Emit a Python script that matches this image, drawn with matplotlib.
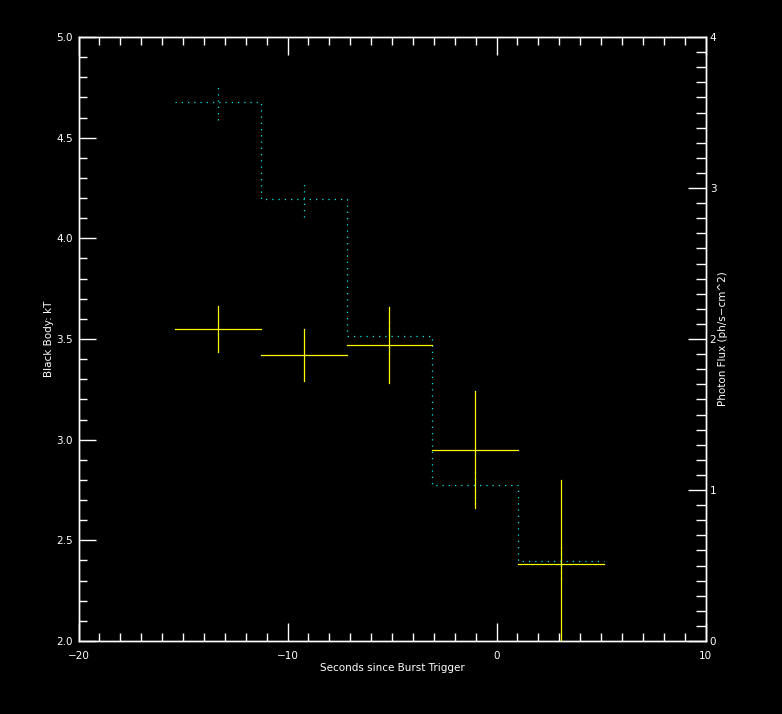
import numpy as np
import matplotlib
matplotlib.use('Agg')
import matplotlib.pyplot as plt
from matplotlib.ticker import MultipleLocator

# --------- data --------

# bin edges (s since trigger), 4.096 s bins
edges = np.array([-15.36, -11.264, -7.168, -3.072, 1.024, 5.12])

# black body kT per bin, with 1-sigma errors
kT = np.array([3.55, 3.42, 3.47, 2.95, 2.38])
kT_err = np.array([0.115, 0.13, 0.19, 0.29, 0.42])

# photon flux per bin (ph/s-cm2)
flux = np.array([3.57, 2.93, 2.02, 1.03, 0.53])
flux_err = np.array([0.12, 0.12, 0.12, 0.12, 0.12])

xticks = [-20, -10, 0, 10]
kT_ticks = [2.0, 2.5, 3.0, 3.5, 4.0, 4.5, 5.0]
flux_ticks = [0, 1, 2, 3, 4]

# --------- plot-params -----------

fg = 'white'
crosscol = '#ffff00'
dotcol = '#00e8e8'
numbersize = 7.5
labelsize = 7.5

plt.rcParams['font.family'] = 'DejaVu Sans'
plt.rcParams['axes.facecolor'] = 'black'
plt.rcParams['figure.facecolor'] = 'black'
plt.rcParams['axes.edgecolor'] = fg
plt.rcParams['axes.linewidth'] = 1.0
plt.rcParams['text.color'] = fg
plt.rcParams['xtick.color'] = fg
plt.rcParams['ytick.color'] = fg
plt.rcParams['axes.labelcolor'] = fg

W, H = 782, 714
fig = plt.figure(figsize=(W / 100, H / 100), dpi=100)

x0, x1 = 78.5, 705.5
y0, y1 = 641, 37
ax = fig.add_axes([x0 / W, 1 - y0 / H, (x1 - x0) / W, (y0 - y1) / H])

centers = 0.5 * (edges[:-1] + edges[1:])

# kT crosses
for i in range(len(kT)):
    ax.plot([edges[i], edges[i + 1]], [kT[i], kT[i]], color=crosscol, lw=0.9, zorder=3)
    ax.plot([centers[i], centers[i]], [kT[i] - kT_err[i], kT[i] + kT_err[i]],
            color=crosscol, lw=0.9, zorder=3)

ax.set_xlim(-20, 10)
ax.set_ylim(2.0, 5.0)
ax.set_xticks(xticks)
ax.set_xticklabels(['\u221220', '\u221210', '0', '10'])
ax.xaxis.set_minor_locator(MultipleLocator(1))
ax.set_yticks(kT_ticks)
ax.set_yticklabels(['%.1f' % v for v in kT_ticks])
ax.yaxis.set_minor_locator(MultipleLocator(0.1))
ax.tick_params(axis='x', which='both', direction='in', top=True, bottom=True,
               labelsize=numbersize, pad=7)
ax.tick_params(axis='x', which='major', length=13, width=1)
ax.tick_params(axis='x', which='minor', length=6, width=1)
ax.tick_params(axis='y', which='both', direction='in', left=True, right=False,
               labelsize=numbersize, pad=4)
ax.tick_params(axis='y', which='major', length=12, width=1)
ax.tick_params(axis='y', which='minor', length=6, width=1)
ax.set_xlabel('Seconds since Burst Trigger', fontsize=labelsize, labelpad=1.5)
ax.set_ylabel('Black Body: kT', fontsize=labelsize, labelpad=1.5)

# photon flux, dotted histogram on right axis
ax2 = ax.twinx()
ax2.step(edges, np.append(flux, flux[-1]), where='post', color=dotcol,
         lw=0.9, linestyle=(0, (1, 4)), zorder=2)
ax2.vlines(centers, flux - flux_err, flux + flux_err, color=dotcol,
           lw=0.9, linestyle=(0, (1, 4)), zorder=2)
ax2.set_ylim(0, 4)
ax2.set_yticks(flux_ticks)
ax2.yaxis.set_minor_locator(MultipleLocator(0.1))
ax2.tick_params(axis='y', which='both', direction='in', right=True, left=False,
                labelsize=numbersize, pad=3)
ax2.tick_params(axis='y', which='major', length=13, width=1)
ax2.tick_params(axis='y', which='minor', length=7, width=1)
ax2.set_ylabel('Photon Flux (ph/s\u2212cm^2)', fontsize=labelsize, labelpad=1)
ax.set_zorder(ax2.get_zorder() + 1)
ax.patch.set_visible(False)

fig.savefig('out.png', dpi=100, facecolor='black')
